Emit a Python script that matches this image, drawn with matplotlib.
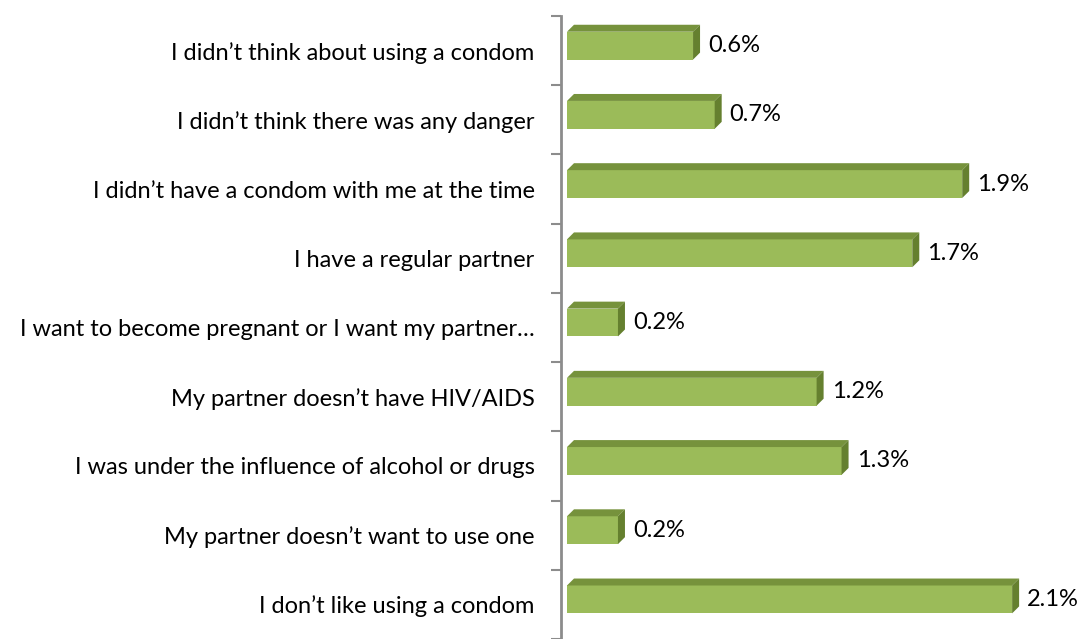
import matplotlib
matplotlib.use("Agg")
import matplotlib.pyplot as plt
from matplotlib.patches import Polygon

reasons = [
    "I didn\u2019t think about using a condom",
    "I didn\u2019t think there was any danger",
    "I didn\u2019t have a condom with me at the time",
    "I have a regular partner",
    "I want to become pregnant or I want my partner\u2026",
    "My partner doesn\u2019t have HIV/AIDS",
    "I was under the influence of alcohol or drugs",
    "My partner doesn\u2019t want to use one",
    "I don\u2019t like using a condom",
]
shares = [0.606, 0.71, 1.90, 1.66, 0.245, 1.20, 1.32, 0.245, 2.14]

face_col = "#9bbb59"
top_col = "#76923c"
side_col = "#65802f"

plt.rcParams['font.family'] = ['Lato', 'DejaVu Sans']

fig = plt.figure(figsize=(10.82, 6.39), dpi=100)
ax = fig.add_axes([561 / 1082, 0, 521 / 1082, 623 / 639])

# one data unit = 208 px horizontally, 69.6 px per category vertically
px_x = 1 / 208
px_y = 1 / 69.6
dx, dy = 7 * px_x, 7 * px_y
half_h = 14 * px_y
off = -5 * px_y

for i, v in enumerate(shares):
    yt = i + off - half_h
    yb = i + off + half_h
    ax.add_patch(Polygon([(0, yt), (v, yt), (v, yb), (0, yb)], closed=True,
                         facecolor=face_col, edgecolor="none"))
    ax.add_patch(Polygon([(0, yt), (v, yt), (v + dx, yt - dy), (dx, yt - dy)],
                         closed=True, facecolor=top_col, edgecolor="none"))
    ax.add_patch(Polygon([(v, yt), (v + dx, yt - dy), (v + dx, yb - dy), (v, yb)],
                         closed=True, facecolor=side_col, edgecolor="none"))
    ax.text(v + dx + 8 * px_x, i + off, f"{v:.1f}%", ha="left", va="center",
            fontsize=17, color="black")

ax.set_xlim(-6 * px_x, 515 * px_x)
ax.set_ylim(-0.5 + 623 * px_y, -0.5)

ax.set_yticks(range(len(reasons)))
ax.set_yticklabels(reasons, fontsize=17)
ax.tick_params(axis="y", which="major", length=0, pad=19)
ax.set_yticks([i - 0.5 for i in range(len(reasons) + 1)], minor=True)
ax.tick_params(axis="y", which="minor", length=7, width=1.5, color="#8c8c8c")
ax.set_xticks([])

for side in ["top", "right", "bottom"]:
    ax.spines[side].set_visible(False)
ax.spines["left"].set_color("#8c8c8c")
ax.spines["left"].set_linewidth(2)

fig.savefig("out.png", dpi=100)
